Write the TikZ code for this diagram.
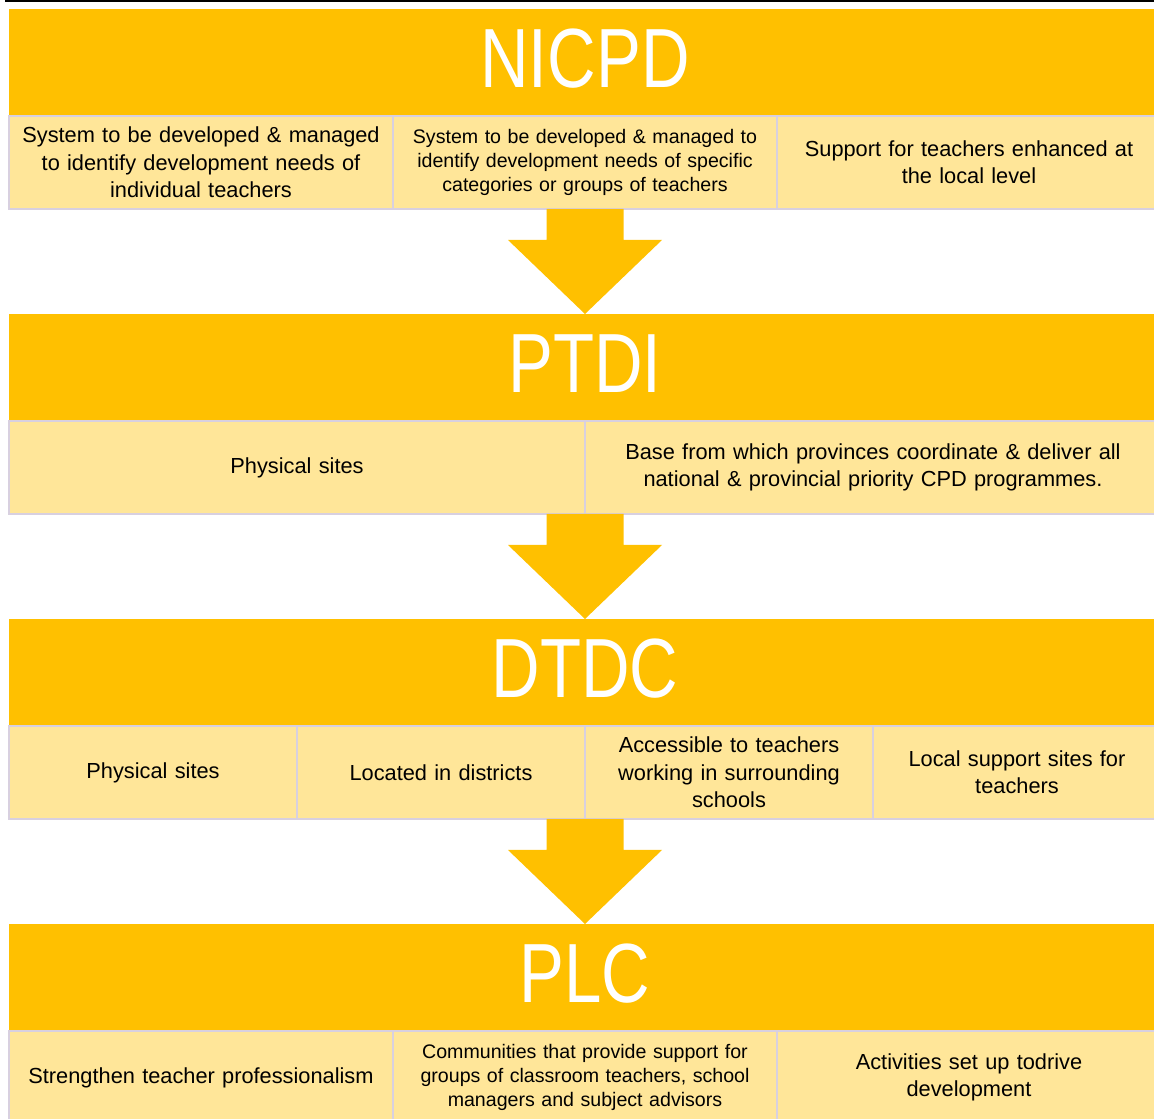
\documentclass[tikz,border=0pt]{standalone}
\usepackage{fontspec}
\setmainfont{Liberation Sans}
\newfontfamily\headfont[FakeStretch=0.8]{Liberation Sans}
\usepackage{xcolor}
\usepackage{tikz}
\usetikzlibrary{positioning,calc}

\definecolor{amber}{HTML}{FFC000}
\definecolor{cellfill}{HTML}{FFE699}
\definecolor{cellline}{RGB}{216,208,224}

% big block arrow from a cell row down to the next header
\newcommand{\flowarrow}[2]{%
  \fill[amber] ($(#1)+(-0.77,0)$) -- ++(0,-0.62) -- ++(-0.77,0) -- (#2)
    -- ($(#1)+(1.54,-0.62)$) -- ++(-0.77,0) -- ($(#1)+(0.77,0)$) -- cycle;}

\begin{document}
\begin{tikzpicture}[
  head/.style={fill=amber, text=white, font=\headfont\fontsize{47.8pt}{50pt}\selectfont,
    minimum width=23.04cm, inner sep=0pt, outer sep=0pt, text height=1.58cm, text depth=0.56cm},
  cell/.style={fill=cellfill, draw=cellline, line width=0.6pt, minimum height=1.86cm,
    inner sep=0pt, outer sep=0pt, align=center, font=\fontsize{12.4pt}{15.6pt}\selectfont},
  smalltext/.style={font=\fontsize{11.15pt}{13.7pt}\selectfont},
  celltwo/.style={cell, minimum width=11.52cm, text width=11.2cm},
  cellthree/.style={cell, minimum width=7.68cm, text width=7.4cm},
  cellfour/.style={cell, minimum width=5.76cm, text width=5.5cm}
]
  \clip (0,0) rectangle (23.08,-22.38);
  \draw[black, line width=0.03cm] (0.1,-0.02) -- (23.2,-0.02);

  % NICPD
  \node[head, anchor=north west] (nicpd) at (0.18,-0.18) {NICPD};
  \node[cellthree, anchor=north west] (nicpd1) at (nicpd.south west) {System to be developed \& managed\\to identify development needs of\\individual teachers};
  \node[cellthree, smalltext, right=0pt of nicpd1] (nicpd2) {System to be developed \& managed to\\identify development needs of specific\\categories or groups of teachers};
  \node[cellthree, right=0pt of nicpd2] (nicpd3) {Support for teachers enhanced at\\the local level};

  % PTDI
  \node[head, below=3.96cm of nicpd] (ptdi) {PTDI};
  \node[celltwo, anchor=north west] (ptdi1) at (ptdi.south west) {Physical sites};
  \node[celltwo, right=0pt of ptdi1] (ptdi2) {Base from which provinces coordinate \& deliver all\\national \& provincial priority CPD programmes.};

  % DTDC
  \node[head, below=3.96cm of ptdi] (dtdc) {DTDC};
  \node[cellfour, anchor=north west] (dtdc1) at (dtdc.south west) {Physical sites};
  \node[cellfour, right=0pt of dtdc1] (dtdc2) {Located in districts};
  \node[cellfour, right=0pt of dtdc2] (dtdc3) {Accessible to teachers\\working in surrounding\\schools};
  \node[cellfour, right=0pt of dtdc3] (dtdc4) {Local support sites for\\teachers};

  % PLC
  \node[head, below=3.96cm of dtdc] (plc) {PLC};
  \node[cellthree, anchor=north west] (plc1) at (plc.south west) {Strengthen teacher professionalism};
  \node[cellthree, smalltext, right=0pt of plc1] (plc2) {Communities that provide  support for\\groups of classroom teachers, school\\managers and subject advisors};
  \node[cellthree, right=0pt of plc2] (plc3) {Activities set up todrive\\development};

  \flowarrow{nicpd2.south}{ptdi.north}
  \flowarrow{ptdi1.south east}{dtdc.north}
  \flowarrow{dtdc2.south east}{plc.north}
\end{tikzpicture}
\end{document}
